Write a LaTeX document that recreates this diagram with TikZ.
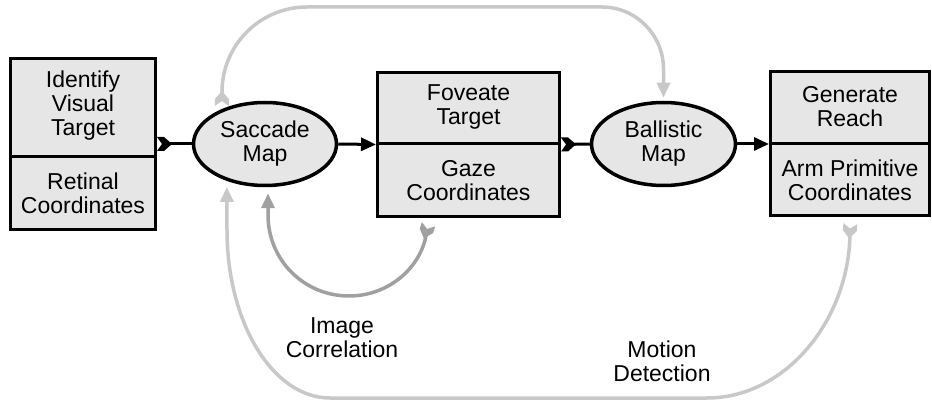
\documentclass[tikz,border=0pt]{standalone}
\usepackage{fontspec}
\setmainfont{Liberation Sans}
\usetikzlibrary{shapes.geometric,arrows.meta,decorations.markings}
\definecolor{boxfill}{HTML}{E6E6E6}
\definecolor{lgray}{HTML}{C8C8C8}
\definecolor{mgray}{HTML}{A0A0A0}
\tikzset{
  headx/.tip={Triangle[length=15pt,width=13pt]},
  tailmark/.style n args={2}{postaction={decorate,decoration={markings,
      mark=at position #1 with {\fill[#2] (0pt,0pt) -- (-8pt,7pt) -- (-15pt,7pt) -- (-10pt,0pt) -- (-15pt,-7pt) -- (-8pt,-7pt) -- cycle;}}}},
}
\begin{document}
\begin{tikzpicture}[x=1pt,y=-1pt,
  every node/.style={font=\fontsize{23}{24}\selectfont},
  blk/.style={draw=black,line width=3pt,fill=boxfill,rectangle,inner sep=0pt},
  oval/.style={draw=black,line width=3.5pt,fill=boxfill,ellipse,inner sep=0pt,align=center},
  txt/.style={align=center,inner sep=0pt},
  flow/.style={line width=3pt,draw=black},
  lcurve/.style={line width=3.5pt,draw=lgray},
  dcurve/.style={line width=3.5pt,draw=mgray},
]
\useasboundingbox (0,0) rectangle (932,403);

% boxes
\node[blk,minimum width=145pt,minimum height=171pt] (box1) at (83,144) {};
\draw[line width=3pt] (box1.west |- 0,157) -- (box1.east |- 0,157);
\node[txt] (b1t) at (83,106) {Identify\\Visual\\Target};
\node[txt] (b1b) at (83,193) {Retinal\\Coordinates};

\node[blk,minimum width=182pt,minimum height=144pt] (box2) at (468.5,144.5) {};
\draw[line width=3pt] (box2.west |- 0,144) -- (box2.east |- 0,144);
\node[txt] (b2t) at (468.5,107) {Foveate\\Target};
\node[txt] (b2b) at (468.5,181) {Gaze\\Coordinates};

\node[blk,minimum width=159pt,minimum height=144pt] (box3) at (850,144) {};
\draw[line width=3pt] (box3.west |- 0,144) -- (box3.east |- 0,144);
\node[txt] (b3t) at (850,107) {Generate\\Reach};
\node[txt] (b3b) at (850,180) {Arm Primitive\\Coordinates};

% ellipses
\node[oval,minimum width=143pt,minimum height=83pt] (sacc) at (265,144) {Saccade\\Map};
\node[oval,minimum width=144pt,minimum height=83pt] (ball) at (663.5,144) {Ballistic\\Map};

% main flow
\draw[flow,shorten <=10pt,tailmark={15pt}{black}] (box1.east) -- (sacc.west);
\draw[flow,-headx] (sacc.east) -- (box2.west);
\draw[flow,shorten <=10pt,tailmark={15pt}{black}] (box2.east) -- (ball.west);
\draw[flow,-headx] (ball.east) -- (box3.west);

% top gray loop
\draw[lcurve,-headx,shorten >=3pt,shorten <=12pt,tailmark={18pt}{lgray}]
  (sacc.141) -- (222,92) .. controls (222,45) and (260,7) .. (307,7)
  -- (602,7) .. controls (636,7) and (663.5,35) .. (663.5,69) -- (ball.north);

% image correlation
\draw[dcurve,-headx,shorten >=6pt,shorten <=14pt,tailmark={21pt}{mgray}]
  ([xshift=-40pt]box2.south) .. controls (422,267) and (389,296) .. (349,296)
  .. controls (304,296) and (268,260) .. (268,215) -- ([xshift=3pt]sacc.south);

% motion detection
\draw[lcurve,-headx,shorten >=6pt,shorten <=14pt,tailmark={21pt}{lgray}]
  (box3.south) .. controls (850,319) and (786,398) .. (707,398)
  -- (330,398) .. controls (273,398) and (227,323) .. (227,230) -- (sacc.224);

% labels
\node[txt] (lic) at (342,338) {Image\\Correlation};
\node[txt] (lmd) at (662,361) {Motion\\Detection};
\end{tikzpicture}
\end{document}
